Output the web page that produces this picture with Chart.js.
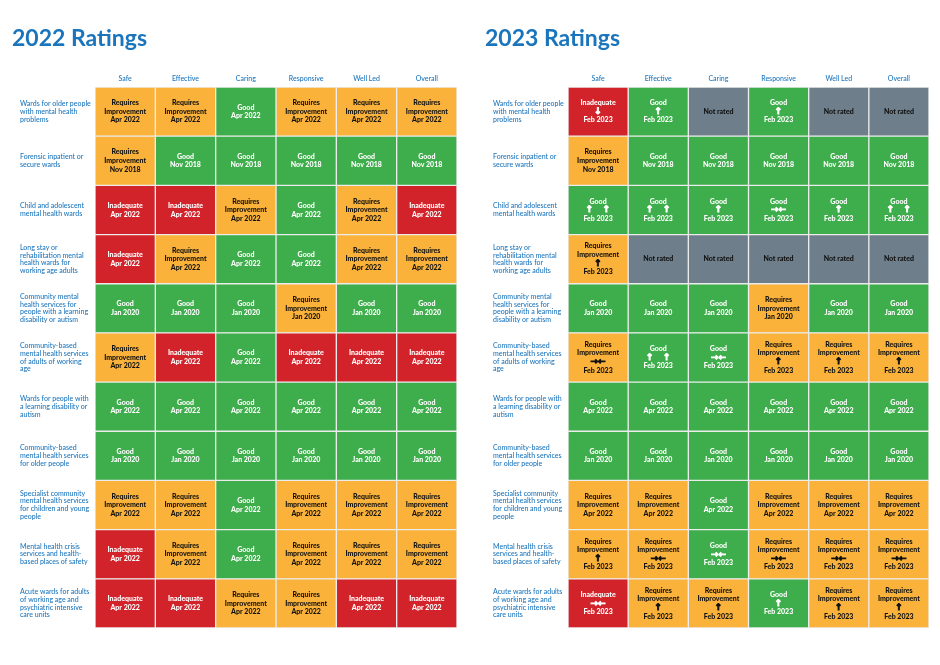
<!DOCTYPE html>
<html>
<head>
<meta charset="utf-8">
<script src="https://cdn.jsdelivr.net/npm/chart.js@4.4.1/dist/chart.umd.min.js"></script>
<style>
html,body{margin:0;padding:0;background:#fff;width:940px;height:665px;overflow:hidden;}
.panel{position:absolute;top:0;width:470px;height:665px;}
.panel canvas{position:absolute;left:0;top:0;}
.title{position:absolute;font:700 23px Lato, "Open Sans", sans-serif;color:#1b75bc;line-height:24px;white-space:nowrap;}
</style>
</head>
<body>
<div class="panel" style="left:0px"><canvas id="c2022" width="470" height="665"></canvas><div class="title" id="t2022" style="left:12px;top:25px"></div></div>
<div class="panel" style="left:470px"><canvas id="c2023" width="470" height="665"></canvas><div class="title" id="t2023" style="left:15px;top:25px"></div></div>
<script>
// ---- data ----
const titles = ['2022 Ratings', '2023 Ratings'];
const columns = ['Safe', 'Effective', 'Caring', 'Responsive', 'Well Led', 'Overall'];
const services = [
  ['Wards for older people', 'with mental health', 'problems'],
  ['Forensic inpatient or', 'secure wards'],
  ['Child and adolescent', 'mental health wards'],
  ['Long stay or', 'rehabilitation mental', 'health wards for', 'working age adults'],
  ['Community mental', 'health services for', 'people with a learning', 'disability or autism'],
  ['Community-based', 'mental health services', 'of adults of working', 'age'],
  ['Wards for people with', 'a learning disability or', 'autism'],
  ['Community-based', 'mental health services', 'for older people'],
  ['Specialist community', 'mental health services', 'for children and young', 'people'],
  ['Mental health crisis', 'services and health-', 'based places of safety'],
  ['Acute wards for adults', 'of working age and', 'psychiatric intensive', 'care units']
];
const ratingNames = {RI: ['Requires', 'Improvement'], G: ['Good'], I: ['Inadequate'], NR: ['Not rated']};
const trendSymbols = {up: '↑', up2: '↑   ↑', down: '↓', same: '→←'};

const ratings2022 = [
  ['RI','RI','G','RI','RI','RI'],
  ['RI','G','G','G','G','G'],
  ['I','I','RI','G','RI','I'],
  ['I','RI','G','G','RI','RI'],
  ['G','G','G','RI','G','G'],
  ['RI','I','G','I','I','I'],
  ['G','G','G','G','G','G'],
  ['G','G','G','G','G','G'],
  ['RI','RI','G','RI','RI','RI'],
  ['I','RI','G','RI','RI','RI'],
  ['I','I','RI','RI','I','I']
];
const dates2022 = ['Apr 2022','Nov 2018','Apr 2022','Apr 2022','Jan 2020','Apr 2022','Apr 2022','Jan 2020','Apr 2022','Apr 2022','Apr 2022'];
const trends2022 = ratings2022.map(r => r.map(() => ''));

const ratings2023 = [
  ['I','G','NR','G','NR','NR'],
  ['RI','G','G','G','G','G'],
  ['G','G','G','G','G','G'],
  ['RI','NR','NR','NR','NR','NR'],
  ['G','G','G','RI','G','G'],
  ['RI','G','G','RI','RI','RI'],
  ['G','G','G','G','G','G'],
  ['G','G','G','G','G','G'],
  ['RI','RI','G','RI','RI','RI'],
  ['RI','RI','G','RI','RI','RI'],
  ['I','RI','RI','G','RI','RI']
];
const dates2023 = ['Feb 2023','Nov 2018','Feb 2023','Feb 2023','Jan 2020','Feb 2023','Apr 2022','Jan 2020','Apr 2022','Feb 2023','Feb 2023'];
const trends2023 = [
  ['down','up','','up','',''],
  ['','','','','',''],
  ['up2','up2','up','same','up','up2'],
  ['up','','','','',''],
  ['','','','','',''],
  ['same','up2','same','up','up','up'],
  ['','','','','',''],
  ['','','','','',''],
  ['','','','','',''],
  ['up','same','same','same','same','same'],
  ['same','up','up','up','up','up']
];

// ---- styles ----
const fillColors = {RI: '#FAB23A', G: '#3EAD4B', I: '#D2232A', NR: '#6E7F8B'};
const textColors = {RI: '#111111', G: '#ffffff', I: '#ffffff', NR: '#111111'};
const labelBlue = '#1b75bc';
Chart.defaults.font.family = 'Lato, "Open Sans", sans-serif';

function cellTextPlugin(ratings, dates, trends) {
  return {
    id: 'cellText',
    afterDatasetsDraw(chart) {
      const ctx = chart.ctx;
      const lh = 8.6;
      chart.data.datasets.forEach((ds, c) => {
        chart.getDatasetMeta(c).data.forEach((bar, r) => {
          const code = ratings[r][c];
          const lines = ratingNames[code].map(t => ({t, arrow: false}));
          const tr = trends[r][c];
          if (tr) lines.push({t: trendSymbols[tr], arrow: true});
          if (code !== 'NR') lines.push({t: dates[r], arrow: false});
          const cx = (bar.x + bar.base) / 2;
          const cy = bar.y;
          const y0 = cy - (lines.length - 1) * lh / 2;
          ctx.save();
          ctx.fillStyle = textColors[code];
          ctx.strokeStyle = textColors[code];
          ctx.textAlign = 'center';
          ctx.textBaseline = 'middle';
          lines.forEach((ln, k) => {
            const y = y0 + k * lh;
            if (ln.arrow) {
              ctx.font = 'bold 9px "DejaVu Sans", sans-serif';
              ctx.lineWidth = 0.9;
              ctx.strokeText(ln.t, cx, y);
              ctx.fillText(ln.t, cx, y);
            } else {
              ctx.font = '900 7px Lato, "Open Sans", sans-serif';
              ctx.fillText(ln.t, cx, y);
            }
          });
          ctx.restore();
        });
      });
    }
  };
}

function makePanel(canvasId, ratings, dates, trends, padLeft, padRight) {
  const datasets = columns.map((col, c) => ({
    label: col,
    data: services.map(() => 1),
    backgroundColor: ratings.map(row => fillColors[row[c]]),
    borderColor: '#ececec',
    borderWidth: 1,
    borderSkipped: false,
    barPercentage: 1,
    categoryPercentage: 1
  }));
  return new Chart(document.getElementById(canvasId), {
    type: 'bar',
    data: {labels: services, datasets},
    options: {
      indexAxis: 'y',
      responsive: false,
      animation: false,
      devicePixelRatio: 1,
      layout: {padding: {left: padLeft, right: padRight, top: 60, bottom: 37}},
      plugins: {legend: {display: false}, tooltip: {enabled: false}, title: {display: false}},
      scales: {
        x: {
          type: 'linear', position: 'top', stacked: true, min: 0, max: columns.length,
          grid: {display: false, drawTicks: false}, border: {display: false},
          afterBuildTicks: s => { s.ticks = columns.map((_, i) => ({value: i + 0.5})); },
          ticks: {callback: (v, i) => columns[i], color: labelBlue, font: {size: 7, weight: '500'}, padding: 4, autoSkip: false, maxRotation: 0},
          afterFit: s => { s.height = 27; }
        },
        y: {
          type: 'category', stacked: true,
          grid: {display: false, drawTicks: false}, border: {display: false},
          ticks: {crossAlign: 'far', color: labelBlue, font: {size: 7, lineHeight: 1.1, weight: '500'}, autoSkip: false, padding: 0},
          afterFit: s => { s.width = 75; }
        }
      }
    },
    plugins: [cellTextPlugin(ratings, dates, trends)]
  });
}

document.getElementById('t2022').textContent = titles[0];
document.getElementById('t2023').textContent = titles[1];
makePanel('c2022', ratings2022, dates2022, trends2022, 20, 13);
makePanel('c2023', ratings2023, dates2023, trends2023, 23, 11);
</script>
</body>
</html>
